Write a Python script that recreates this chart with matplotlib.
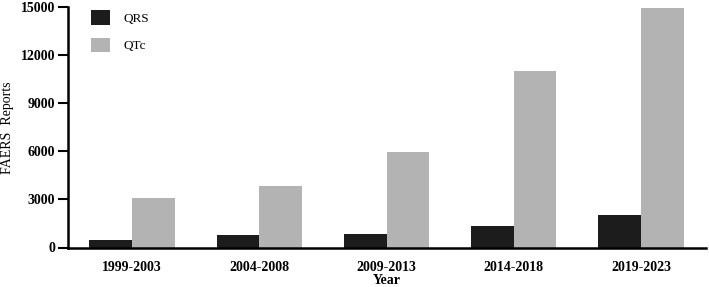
import numpy as np
import matplotlib
matplotlib.use('Agg')
import matplotlib.pyplot as plt

periods = ['1999-2003', '2004-2008', '2009-2013', '2014-2018', '2019-2023']
qrs = [480, 780, 860, 1320, 2010]
qtc = [3080, 3840, 5990, 11020, 14950]
yticks = [0, 3000, 6000, 9000, 12000, 15000]

plt.rcParams['font.family'] = ['Liberation Serif', 'DejaVu Serif']

fig = plt.figure(figsize=(7.09, 2.87), dpi=100)
ax = fig.add_axes([68/709, 39.5/287, 638/709, 240.2/287])

x = np.arange(len(periods))
w = 0.335
ax.bar(x - w/2, qrs, w, color='#1c1c1c', label='QRS')
ax.bar(x + w/2, qtc, w, color='#b3b3b3', label='QTc')

ax.set_xlim(-0.503, 4.51)
ax.set_ylim(0, 15000)
ax.set_yticks(yticks)
ax.set_yticklabels([str(t) for t in yticks], fontsize=10, fontweight='bold')
ax.set_xticks(x)
ax.set_xticklabels(periods, fontsize=10, fontweight='bold')

for s in ['top', 'right']:
    ax.spines[s].set_visible(False)
for s in ['left', 'bottom']:
    ax.spines[s].set_linewidth(1.8)
ax.tick_params(axis='y', length=7, width=1.5, pad=2)
ax.tick_params(axis='x', length=0, pad=10)

ax.set_xlabel('Year', fontsize=10, fontweight='bold', labelpad=0)
ax.set_ylabel('FAERS  Reports', fontsize=10)
ax.yaxis.set_label_coords(-0.084, 0.5)

ax.legend(loc='upper left', bbox_to_anchor=(90.7/709, 1 - 10/287),
          bbox_transform=fig.transFigure, frameon=False, fontsize=9.5,
          handlelength=1.5, handleheight=1.36, labelspacing=0.96,
          handletextpad=1.0, borderpad=0, borderaxespad=0)

fig.savefig('out.png', dpi=100)
